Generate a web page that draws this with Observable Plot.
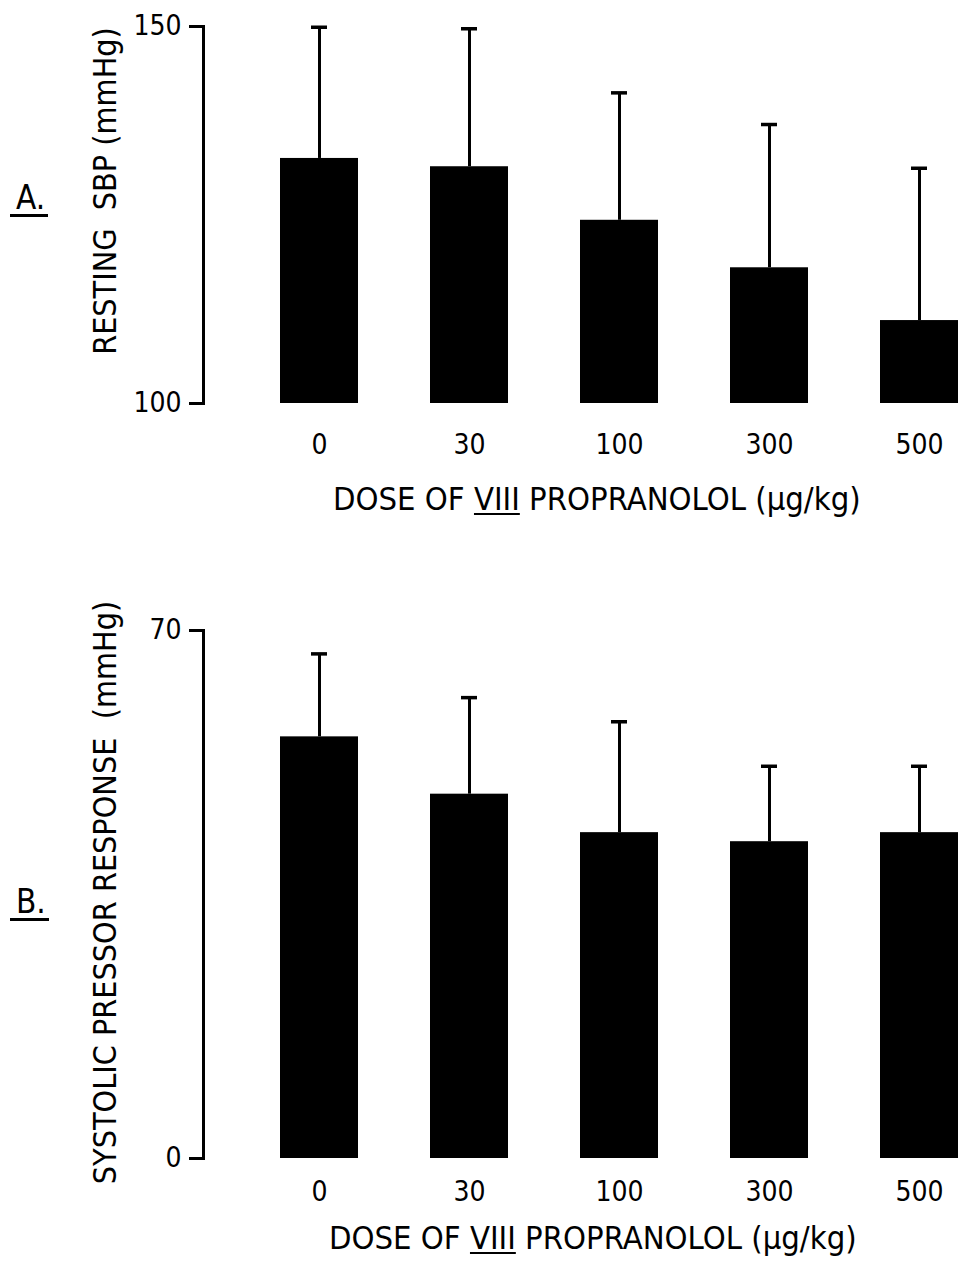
<!DOCTYPE html>
<html>
<head>
<meta charset="utf-8">
<script src="https://cdn.jsdelivr.net/npm/d3@7"></script>
<script src="https://cdn.jsdelivr.net/npm/@observablehq/plot@0.6"></script>
<style>
  html, body { margin: 0; padding: 0; background: #fff; overflow: hidden; }
  #wrap { position: relative; width: 962px; height: 1280px; overflow: hidden;
          font-family: "Liberation Sans Narrow", "DejaVu Sans Condensed", "Liberation Sans", sans-serif; color: #000; }
  .panel { position: absolute; left: 0; }
  .xlab { position: absolute; font-size: 32.5px; line-height: 32.5px; white-space: pre; }
  .xlab u { text-decoration-thickness: 2px; text-underline-offset: 3px; }
  .plab { position: absolute; font-size: 33px; line-height: 33px; padding-left: 6px; padding-right: 3px;
          border-bottom: 3px solid #000; }
</style>
</head>
<body>
<div id="wrap">
  <div class="plab" style="left:10px; top:181px;">A.</div>
  <div class="panel" id="pA" style="top:0px;"></div>
  <div class="xlab" style="left:333px; top:483px;">DOSE OF <u>VIII</u> PROPRANOLOL (μg/kg)</div>
  <div class="plab" style="left:10px; top:885px;">B.</div>
  <div class="panel" id="pB" style="top:530px;"></div>
  <div class="xlab" style="left:329px; top:1222px;">DOSE OF <u>VIII</u> PROPRANOLOL (μg/kg)</div>
</div>
<script>
// Doses (µg/kg) of VIII propranolol
const doses = ["0", "30", "100", "300", "500"];

// Panel A: resting systolic blood pressure (mmHg), mean and error (upper bar)
const restingSBP = [132.5, 131.4, 124.3, 118.0, 111.0];
const restingSBPErr = [17.4, 18.3, 16.9, 19.0, 20.2];
const restingDomain = [100, 150];
const restingTicks = [100, 150];
const restingTitle = "RESTING  SBP (mmHg)";

// Panel B: systolic pressor response (mmHg), mean and error (upper bar)
const pressor = [55.9, 48.3, 43.2, 42.0, 43.2];
const pressorErr = [11.0, 12.8, 14.7, 10.0, 8.8];
const pressorDomain = [0, 70];
const pressorTicks = [0, 70];
const pressorTitle = "SYSTOLIC PRESSOR RESPONSE  (mmHg)";

const FONT = '"Liberation Sans Narrow", "DejaVu Sans Condensed", "Liberation Sans", sans-serif';

function panel({means, errs, domain, ticks, title, titleDy, height, marginTop, marginBottom, tickPad}) {
  const data = doses.map((d, i) => ({dose: d, mean: means[i], hi: means[i] + errs[i], base: domain[0]}));
  return Plot.plot({
    width: 962,
    height,
    marginTop,
    marginBottom,
    marginLeft: 203,
    marginRight: 0,
    style: {fontFamily: FONT, background: "transparent", color: "#000"},
    x: {domain: doses, range: [203, 1035], paddingInner: 0.483, paddingOuter: 0.497, axis: null},
    y: {domain, axis: null},
    marks: [
      Plot.barY(data, {x: "dose", y1: "base", y2: "mean", fill: "#000"}),
      Plot.ruleX(data, {x: "dose", y1: "mean", y2: "hi", stroke: "#000", strokeWidth: 3}),
      Plot.tickY(data, {x: "dose", y: "hi", stroke: "#000", strokeWidth: 3.5, insetLeft: 31, insetRight: 31}),
      Plot.frame({anchor: "left", stroke: "#000", strokeWidth: 3}),
      Plot.axisY({ticks, tickSize: 14, tickPadding: 8, fontSize: 28, label: null, strokeWidth: 3}),
      Plot.axisX({tickSize: 0, tickPadding: tickPad, fontSize: 28, label: null}),
      Plot.text([title], {frameAnchor: "left", rotate: -90, dx: -110, dy: titleDy, lineAnchor: "top",
                          textAnchor: "middle", fontSize: 32, fill: "#000"})
    ]
  });
}

document.getElementById("pA").append(panel({
  means: restingSBP, errs: restingSBPErr, domain: restingDomain, ticks: restingTicks,
  title: restingTitle, titleDy: -24, height: 470, marginTop: 26, marginBottom: 67, tickPad: 31
}));
document.getElementById("pB").append(panel({
  means: pressor, errs: pressorErr, domain: pressorDomain, ticks: pressorTicks,
  title: pressorTitle, titleDy: -2, height: 680, marginTop: 100, marginBottom: 52, tickPad: 23
}));
</script>
</body>
</html>
